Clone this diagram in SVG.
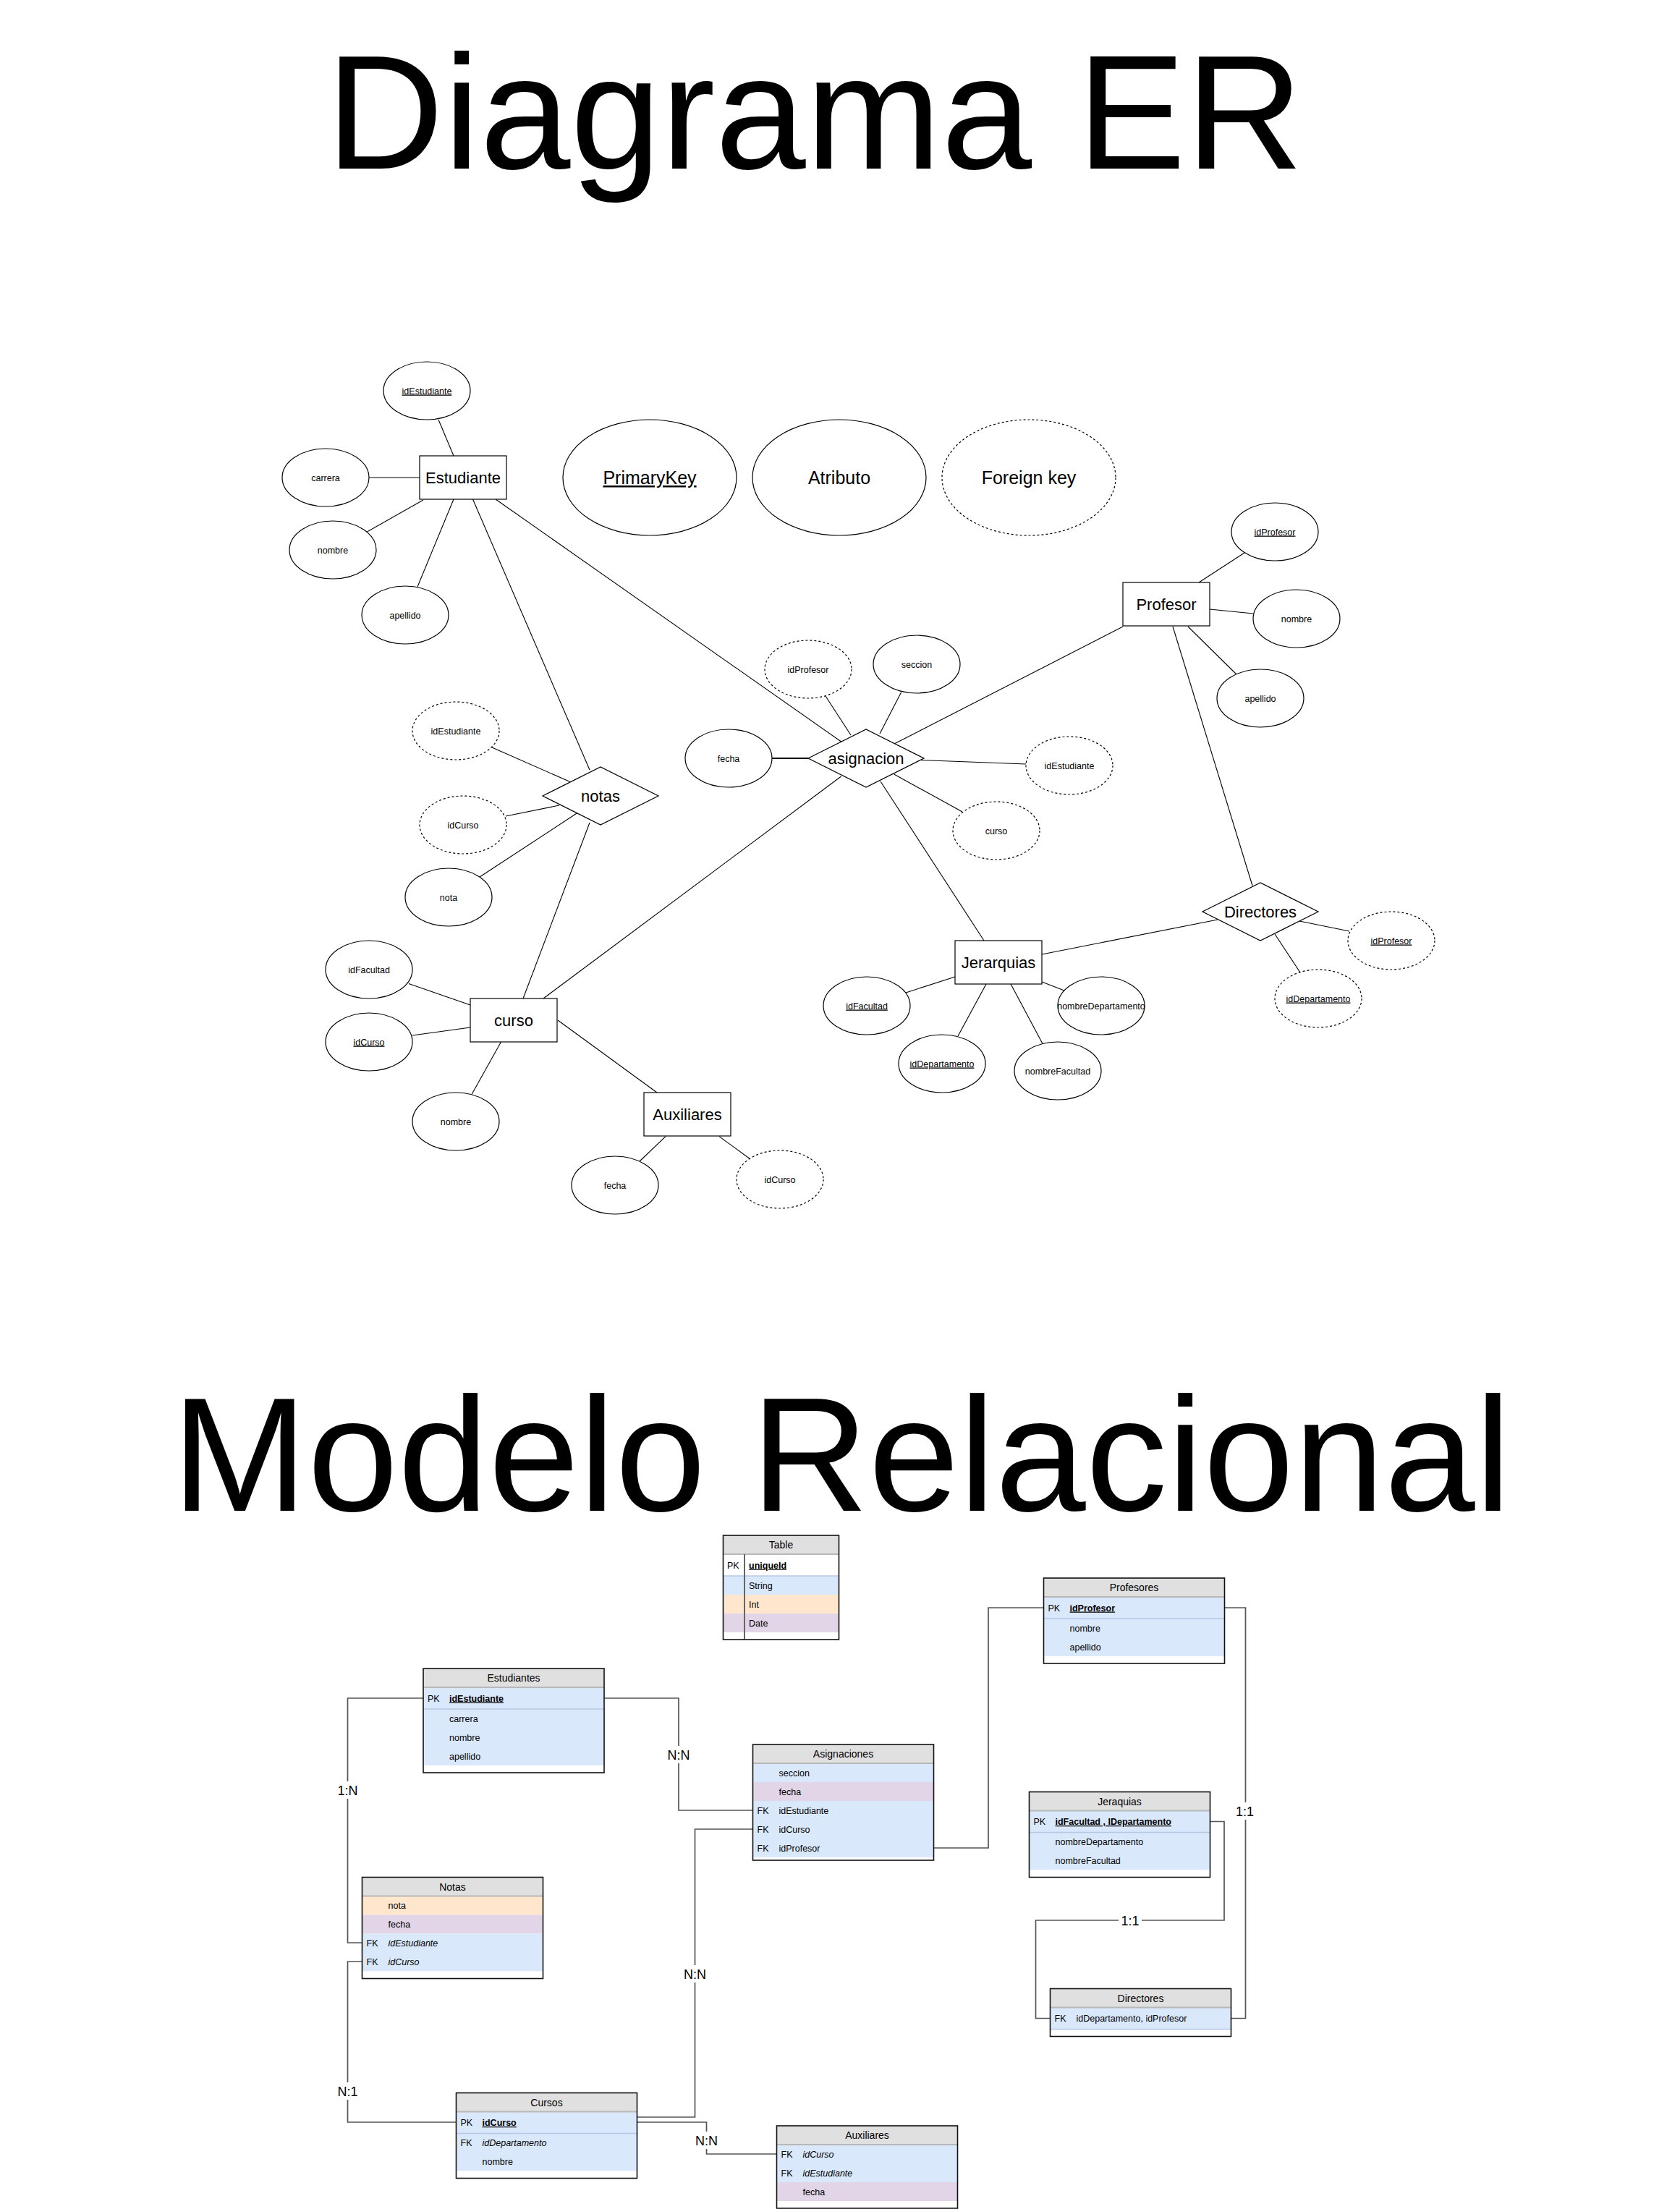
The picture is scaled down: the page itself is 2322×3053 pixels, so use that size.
<svg xmlns="http://www.w3.org/2000/svg" width="2322" height="3053" viewBox="0 0 2322 3053">
<style>
text{font-family:"Liberation Sans",Arial,sans-serif;fill:#000}
.title{font-size:225px;text-anchor:middle}
.ent rect,.rel polygon{fill:#fff;stroke:#000;stroke-width:1.2}
.ent text,.rel text{font-size:22px;text-anchor:middle}
ellipse{fill:#fff;stroke:#000;stroke-width:1.2}
.dash ellipse{stroke-dasharray:3 3}
.attr text{font-size:12.5px;text-anchor:middle}
.leg text{font-size:25px;text-anchor:middle}
.u{text-decoration:underline}
#er-links line{stroke:#000;stroke-width:1.1}
.hdr{fill:#e0e0e0}
.b{fill:#dae8fc}
.o{fill:#ffe6cc}
.p{fill:#e1d5e7}
.w{fill:#fff}
.frame{fill:none;stroke:#111;stroke-width:1.6}
.hl{stroke:#b8b8b8;stroke-width:2}
.sl{stroke:#b4c8e4;stroke-width:1.5}
.ht{font-size:14px;text-anchor:middle}
.rt{font-size:12.5px}
.k{font-weight:bold;text-decoration:underline}
.i{font-style:italic}
#rel-links path{fill:none;stroke:#555;stroke-width:1.7}
.lbl{font-size:18px;text-anchor:middle}
</style>

<text class="title" x="1126" y="233">Diagrama ER</text>
<text class="title" x="1163" y="2088">Modelo Relacional</text>

<!-- ER connectors -->
<g id="er-links">
<line x1="606" y1="580" x2="627" y2="630"/>
<line x1="510" y1="660" x2="580" y2="660"/>
<line x1="507.5" y1="735" x2="585" y2="691"/>
<line x1="577" y1="811" x2="627" y2="690"/>
<line x1="653.5" y1="690" x2="815" y2="1064"/>
<line x1="685" y1="690" x2="1162.6" y2="1025"/>
<line x1="680" y1="1033" x2="788" y2="1080.6"/>
<line x1="699" y1="1128" x2="773" y2="1113"/>
<line x1="663" y1="1212" x2="798" y2="1123.5"/>
<line x1="815" y1="1137" x2="723" y2="1380"/>
<line x1="1162.6" y1="1073" x2="751" y2="1380"/>
<line x1="1141" y1="962" x2="1176" y2="1016"/>
<line x1="1245.5" y1="957" x2="1216" y2="1014"/>
<line x1="1067" y1="1048" x2="1118" y2="1048" style="stroke-width:2.2"/>
<line x1="1273" y1="1050.5" x2="1418" y2="1056"/>
<line x1="1235.6" y1="1070" x2="1330" y2="1122"/>
<line x1="1237" y1="1027.6" x2="1552" y2="866"/>
<line x1="1217" y1="1080" x2="1360" y2="1300"/>
<line x1="1657" y1="805" x2="1720" y2="764"/>
<line x1="1672" y1="842" x2="1732" y2="848"/>
<line x1="1642" y1="866" x2="1709" y2="932"/>
<line x1="1621" y1="866" x2="1731" y2="1224"/>
<line x1="1683" y1="1271" x2="1440" y2="1319"/>
<line x1="1796" y1="1273" x2="1865" y2="1287"/>
<line x1="1762" y1="1291" x2="1797" y2="1344"/>
<line x1="1320" y1="1350" x2="1252" y2="1372"/>
<line x1="1363" y1="1360" x2="1324" y2="1432"/>
<line x1="1397" y1="1360" x2="1441" y2="1442.5"/>
<line x1="1440" y1="1357" x2="1471" y2="1369"/>
<line x1="565" y1="1359.5" x2="650" y2="1389"/>
<line x1="570" y1="1431" x2="650" y2="1420"/>
<line x1="692.5" y1="1440" x2="652" y2="1512.5"/>
<line x1="771" y1="1410" x2="908" y2="1510"/>
<line x1="920" y1="1570.6" x2="884" y2="1605"/>
<line x1="994" y1="1570.6" x2="1037" y2="1602"/>
</g>

<!-- Legend -->
<g id="leg-pk" class="leg"><ellipse cx="898" cy="660" rx="120" ry="80"/><text class="u" x="898" y="669">PrimaryKey</text></g>
<g id="leg-attr" class="leg"><ellipse cx="1160" cy="660" rx="120" ry="80"/><text x="1160" y="669">Atributo</text></g>
<g id="leg-fk" class="leg dash"><ellipse cx="1422" cy="660" rx="120" ry="80"/><text x="1422" y="669">Foreign key</text></g>

<!-- Entities -->
<g id="e-estudiante" class="ent"><rect x="580" y="630" width="120" height="60"/><text x="640" y="668">Estudiante</text></g>
<g id="e-profesor" class="ent"><rect x="1552" y="805" width="120" height="60"/><text x="1612" y="843">Profesor</text></g>
<g id="e-curso" class="ent"><rect x="650" y="1380" width="120" height="60"/><text x="710" y="1418">curso</text></g>
<g id="e-auxiliares" class="ent"><rect x="890" y="1510" width="120" height="60"/><text x="950" y="1548">Auxiliares</text></g>
<g id="e-jerarquias" class="ent"><rect x="1320" y="1300" width="120" height="60"/><text x="1380" y="1338">Jerarquias</text></g>

<!-- Relationships -->
<g id="r-notas" class="rel"><polygon points="750,1100 830,1060 910,1100 830,1140"/><text x="830" y="1108">notas</text></g>
<g id="r-asignacion" class="rel"><polygon points="1117,1048 1197,1008 1277,1048 1197,1088"/><text x="1197" y="1056">asignacion</text></g>
<g id="r-directores" class="rel"><polygon points="1662,1260 1742,1220 1822,1260 1742,1300"/><text x="1742" y="1268">Directores</text></g>

<!-- Attributes -->
<g id="a-est-id" class="attr"><ellipse cx="590" cy="540" rx="60" ry="40"/><text class="u" x="590" y="544.5">idEstudiante</text></g>
<g id="a-est-carrera" class="attr"><ellipse cx="450" cy="660" rx="60" ry="40"/><text x="450" y="664.5">carrera</text></g>
<g id="a-est-nombre" class="attr"><ellipse cx="460" cy="760" rx="60" ry="40"/><text x="460" y="764.5">nombre</text></g>
<g id="a-est-apellido" class="attr"><ellipse cx="560" cy="850" rx="60" ry="40"/><text x="560" y="854.5">apellido</text></g>
<g id="a-asig-idprof" class="attr dash"><ellipse cx="1117" cy="925" rx="60" ry="40"/><text x="1117" y="929.5">idProfesor</text></g>
<g id="a-asig-seccion" class="attr"><ellipse cx="1267" cy="918" rx="60" ry="40"/><text x="1267" y="922.5">seccion</text></g>
<g id="a-asig-fecha" class="attr"><ellipse cx="1007" cy="1048" rx="60" ry="40"/><text x="1007" y="1052.5">fecha</text></g>
<g id="a-asig-idest" class="attr dash"><ellipse cx="1478" cy="1058" rx="60" ry="40"/><text x="1478" y="1062.5">idEstudiante</text></g>
<g id="a-asig-curso" class="attr dash"><ellipse cx="1377" cy="1148" rx="60" ry="40"/><text x="1377" y="1152.5">curso</text></g>
<g id="a-notas-idest" class="attr dash"><ellipse cx="630" cy="1010" rx="60" ry="40"/><text x="630" y="1014.5">idEstudiante</text></g>
<g id="a-notas-idcurso" class="attr dash"><ellipse cx="640" cy="1140" rx="60" ry="40"/><text x="640" y="1144.5">idCurso</text></g>
<g id="a-notas-nota" class="attr"><ellipse cx="620" cy="1240" rx="60" ry="40"/><text x="620" y="1244.5">nota</text></g>
<g id="a-curso-idfac" class="attr"><ellipse cx="510" cy="1340" rx="60" ry="40"/><text x="510" y="1344.5">idFacultad</text></g>
<g id="a-curso-id" class="attr"><ellipse cx="510" cy="1440" rx="60" ry="40"/><text class="u" x="510" y="1444.5">idCurso</text></g>
<g id="a-curso-nombre" class="attr"><ellipse cx="630" cy="1550" rx="60" ry="40"/><text x="630" y="1554.5">nombre</text></g>
<g id="a-aux-fecha" class="attr"><ellipse cx="850" cy="1638" rx="60" ry="40"/><text x="850" y="1642.5">fecha</text></g>
<g id="a-aux-idcurso" class="attr dash"><ellipse cx="1078" cy="1630" rx="60" ry="40"/><text x="1078" y="1634.5">idCurso</text></g>
<g id="a-jer-idfac" class="attr"><ellipse cx="1198" cy="1390" rx="60" ry="40"/><text class="u" x="1198" y="1394.5">idFacultad</text></g>
<g id="a-jer-iddep" class="attr"><ellipse cx="1302" cy="1470" rx="60" ry="40"/><text class="u" x="1302" y="1474.5">idDepartamento</text></g>
<g id="a-jer-nomfac" class="attr"><ellipse cx="1462" cy="1480" rx="60" ry="40"/><text x="1462" y="1484.5">nombreFacultad</text></g>
<g id="a-jer-nomdep" class="attr"><ellipse cx="1522" cy="1390" rx="60" ry="40"/><text x="1522" y="1394.5">nombreDepartamento</text></g>
<g id="a-prof-id" class="attr"><ellipse cx="1762" cy="735" rx="60" ry="40"/><text class="u" x="1762" y="739.5">idProfesor</text></g>
<g id="a-prof-nombre" class="attr"><ellipse cx="1792" cy="855" rx="60" ry="40"/><text x="1792" y="859.5">nombre</text></g>
<g id="a-prof-apellido" class="attr"><ellipse cx="1742" cy="965" rx="60" ry="40"/><text x="1742" y="969.5">apellido</text></g>
<g id="a-dir-idprof" class="attr dash"><ellipse cx="1923" cy="1300" rx="60" ry="40"/><text class="u" x="1923" y="1304.5">idProfesor</text></g>
<g id="a-dir-iddep" class="attr dash"><ellipse cx="1822" cy="1380" rx="60" ry="40"/><text class="u" x="1822" y="1384.5">idDepartamento</text></g>

<!-- Relational connectors -->
<g id="rel-links">
<path d="M585,2347 H480.5 V2685 H500.5"/>
<path d="M835.5,2347 H938 V2502 H1040.5"/>
<path d="M1040.5,2528 H960.5 V2926 H880.5"/>
<path d="M500.5,2711 H480.5 V2933 H630.5"/>
<path d="M880.5,2933 H976.5 V2977 H1073.5"/>
<path d="M1290.5,2554 H1366 V2222 H1442.5"/>
<path d="M1692.5,2222 H1721.5 V2789.5 H1701.5"/>
<path d="M1672.5,2517.5 H1692 V2654 H1431.5 V2789.5 H1451.5"/>
<g>
<rect x="462" y="2462" width="37" height="24" fill="#fff"/><text class="lbl" x="480.5" y="2480.5">1:N</text>
<rect x="918" y="2413" width="40" height="24" fill="#fff"/><text class="lbl" x="938" y="2431.5">N:N</text>
<rect x="940" y="2716" width="41" height="24" fill="#fff"/><text class="lbl" x="960.5" y="2734.5">N:N</text>
<rect x="462" y="2878" width="37" height="24" fill="#fff"/><text class="lbl" x="480.5" y="2896.5">N:1</text>
<rect x="956" y="2946" width="41" height="24" fill="#fff"/><text class="lbl" x="976.5" y="2964.5">N:N</text>
<rect x="1705" y="2491" width="31" height="24" fill="#fff"/><text class="lbl" x="1720.5" y="2509.5">1:1</text>
<rect x="1546" y="2642" width="32" height="24" fill="#fff"/><text class="lbl" x="1562" y="2660.5">1:1</text>
</g>
</g>

<!-- Legend table -->
<g id="t-table">
<rect class="hdr" x="999.5" y="2122" width="160" height="26"/>
<rect class="w" x="999.5" y="2148" width="160" height="30"/>
<rect class="b" x="999.5" y="2178" width="160" height="26"/>
<rect class="o" x="999.5" y="2204" width="160" height="26"/>
<rect class="p" x="999.5" y="2230" width="160" height="26"/>
<line x1="999.5" y1="2148" x2="1159.5" y2="2148" class="hl"/>
<line x1="999.5" y1="2178" x2="1159.5" y2="2178" class="sl"/>
<line x1="1029" y1="2148" x2="1029" y2="2266" stroke="#666" stroke-width="2"/>
<rect class="frame" x="999.5" y="2122" width="160" height="144"/>
<text class="ht" x="1079.5" y="2140">Table</text>
<text class="rt" x="1005" y="2167.5">PK</text><text class="rt k" x="1035" y="2167.5">uniqueId</text>
<text class="rt" x="1035" y="2195.5">String</text>
<text class="rt" x="1035" y="2221.5">Int</text>
<text class="rt" x="1035" y="2247.5">Date</text>
</g>

<!-- Estudiantes -->
<g id="t-estudiantes">
<rect class="hdr" x="585" y="2306" width="250" height="26"/>
<rect class="b" x="585" y="2332" width="250" height="108"/>
<rect class="w" x="585" y="2440" width="250" height="10"/>
<line x1="585" y1="2332" x2="835" y2="2332" class="hl"/>
<line x1="585" y1="2362" x2="835" y2="2362" class="sl"/>
<rect class="frame" x="585" y="2306" width="250" height="144"/>
<text class="ht" x="710" y="2324">Estudiantes</text>
<text class="rt" x="591" y="2351.5">PK</text><text class="rt k" x="621" y="2351.5">idEstudiante</text>
<text class="rt" x="621" y="2379.5">carrera</text>
<text class="rt" x="621" y="2405.5">nombre</text>
<text class="rt" x="621" y="2431.5">apellido</text>
</g>

<!-- Asignaciones -->
<g id="t-asignaciones">
<rect class="hdr" x="1040.5" y="2411" width="250" height="26"/>
<rect class="b" x="1040.5" y="2437" width="250" height="26"/>
<rect class="p" x="1040.5" y="2463" width="250" height="26"/>
<rect class="b" x="1040.5" y="2489" width="250" height="78"/>
<rect class="w" x="1040.5" y="2567" width="250" height="4"/>
<line x1="1040.5" y1="2437" x2="1290.5" y2="2437" class="hl"/>
<rect class="frame" x="1040.5" y="2411" width="250" height="160"/>
<text class="ht" x="1165.5" y="2429">Asignaciones</text>
<text class="rt" x="1076.5" y="2454.5">seccion</text>
<text class="rt" x="1076.5" y="2480.5">fecha</text>
<text class="rt" x="1046.5" y="2506.5">FK</text><text class="rt" x="1076.5" y="2506.5">idEstudiante</text>
<text class="rt" x="1046.5" y="2532.5">FK</text><text class="rt" x="1076.5" y="2532.5">idCurso</text>
<text class="rt" x="1046.5" y="2558.5">FK</text><text class="rt" x="1076.5" y="2558.5">idProfesor</text>
</g>

<!-- Notas -->
<g id="t-notas">
<rect class="hdr" x="500.5" y="2594.5" width="250" height="26"/>
<rect class="o" x="500.5" y="2620.5" width="250" height="26"/>
<rect class="p" x="500.5" y="2646.5" width="250" height="26"/>
<rect class="b" x="500.5" y="2672.5" width="250" height="52"/>
<rect class="w" x="500.5" y="2724.5" width="250" height="10"/>
<line x1="500.5" y1="2620.5" x2="750.5" y2="2620.5" class="hl"/>
<rect class="frame" x="500.5" y="2594.5" width="250" height="140"/>
<text class="ht" x="625.5" y="2612.5">Notas</text>
<text class="rt" x="536.5" y="2638">nota</text>
<text class="rt" x="536.5" y="2664">fecha</text>
<text class="rt" x="506.5" y="2690">FK</text><text class="rt i" x="536.5" y="2690">idEstudiante</text>
<text class="rt" x="506.5" y="2716">FK</text><text class="rt i" x="536.5" y="2716">idCurso</text>
</g>

<!-- Cursos -->
<g id="t-cursos">
<rect class="hdr" x="630.5" y="2892.5" width="250" height="26"/>
<rect class="b" x="630.5" y="2918.5" width="250" height="82"/>
<rect class="w" x="630.5" y="3000.5" width="250" height="10"/>
<line x1="630.5" y1="2918.5" x2="880.5" y2="2918.5" class="hl"/>
<line x1="630.5" y1="2948.5" x2="880.5" y2="2948.5" class="sl"/>
<rect class="frame" x="630.5" y="2892.5" width="250" height="118"/>
<text class="ht" x="755.5" y="2910.5">Cursos</text>
<text class="rt" x="636.5" y="2938">PK</text><text class="rt k" x="666.5" y="2938">idCurso</text>
<text class="rt" x="636.5" y="2966">FK</text><text class="rt i" x="666.5" y="2966">idDepartamento</text>
<text class="rt" x="666.5" y="2992">nombre</text>
</g>

<!-- Auxiliares -->
<g id="t-auxiliares">
<rect class="hdr" x="1073.5" y="2938" width="250" height="26"/>
<rect class="b" x="1073.5" y="2964" width="250" height="52"/>
<rect class="p" x="1073.5" y="3016" width="250" height="26"/>
<rect class="w" x="1073.5" y="3042" width="250" height="10"/>
<line x1="1073.5" y1="2964" x2="1323.5" y2="2964" class="hl"/>
<rect class="frame" x="1073.5" y="2938" width="250" height="114"/>
<text class="ht" x="1198.5" y="2956">Auxiliares</text>
<text class="rt" x="1079.5" y="2981.5">FK</text><text class="rt i" x="1109.5" y="2981.5">idCurso</text>
<text class="rt" x="1079.5" y="3007.5">FK</text><text class="rt i" x="1109.5" y="3007.5">idEstudiante</text>
<text class="rt" x="1109.5" y="3033.5">fecha</text>
</g>

<!-- Profesores -->
<g id="t-profesores">
<rect class="hdr" x="1442.5" y="2181" width="250" height="26"/>
<rect class="b" x="1442.5" y="2207" width="250" height="82"/>
<rect class="w" x="1442.5" y="2289" width="250" height="10"/>
<line x1="1442.5" y1="2207" x2="1692.5" y2="2207" class="hl"/>
<line x1="1442.5" y1="2237" x2="1692.5" y2="2237" class="sl"/>
<rect class="frame" x="1442.5" y="2181" width="250" height="118"/>
<text class="ht" x="1567.5" y="2199">Profesores</text>
<text class="rt" x="1448.5" y="2226.5">PK</text><text class="rt k" x="1478.5" y="2226.5">idProfesor</text>
<text class="rt" x="1478.5" y="2254.5">nombre</text>
<text class="rt" x="1478.5" y="2280.5">apellido</text>
</g>

<!-- Jeraquias -->
<g id="t-jeraquias">
<rect class="hdr" x="1422.5" y="2476.5" width="250" height="26"/>
<rect class="b" x="1422.5" y="2502.5" width="250" height="82"/>
<rect class="w" x="1422.5" y="2584.5" width="250" height="10"/>
<line x1="1422.5" y1="2502.5" x2="1672.5" y2="2502.5" class="hl"/>
<line x1="1422.5" y1="2532.5" x2="1672.5" y2="2532.5" class="sl"/>
<rect class="frame" x="1422.5" y="2476.5" width="250" height="118"/>
<text class="ht" x="1547.5" y="2494.5">Jeraquias</text>
<text class="rt" x="1428.5" y="2522">PK</text><text class="rt k" x="1458.5" y="2522">idFacultad , IDepartamento</text>
<text class="rt" x="1458.5" y="2550">nombreDepartamento</text>
<text class="rt" x="1458.5" y="2576">nombreFacultad</text>
</g>

<!-- Directores -->
<g id="t-directores">
<rect class="hdr" x="1451.5" y="2748.5" width="250" height="26"/>
<rect class="b" x="1451.5" y="2774.5" width="250" height="30"/>
<rect class="w" x="1451.5" y="2804.5" width="250" height="10"/>
<line x1="1451.5" y1="2774.5" x2="1701.5" y2="2774.5" class="hl"/>
<line x1="1451.5" y1="2804.5" x2="1701.5" y2="2804.5" class="sl"/>
<rect class="frame" x="1451.5" y="2748.5" width="250" height="66"/>
<text class="ht" x="1576.5" y="2766.5">Directores</text>
<text class="rt" x="1457.5" y="2794">FK</text><text class="rt" x="1487.5" y="2794">idDepartamento, idProfesor</text>
</g>
</svg>
